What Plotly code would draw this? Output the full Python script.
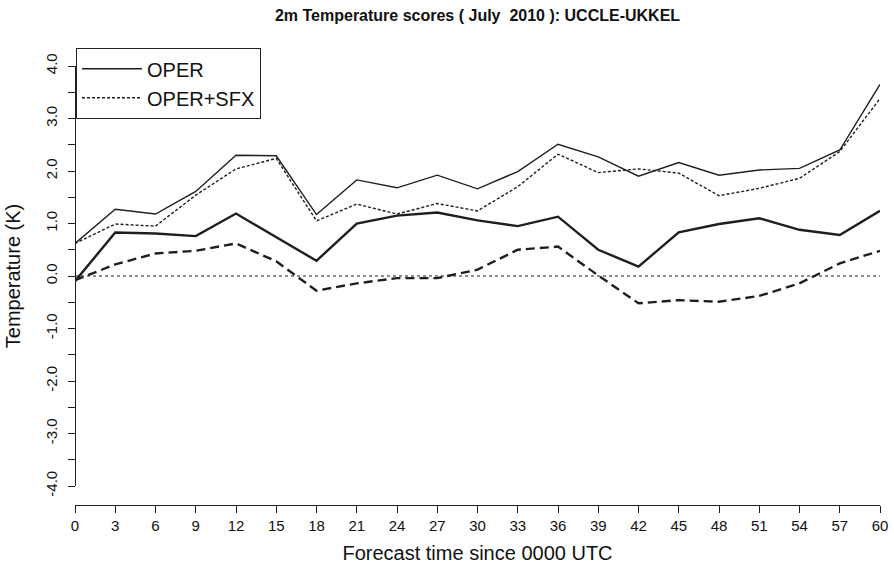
import plotly.graph_objects as go

# Forecast lead times (hours)
lead_hours = [0, 3, 6, 9, 12, 15, 18, 21, 24, 27, 30, 33, 36, 39, 42, 45, 48, 51, 54, 57, 60]

# RMSE-like scores (thin lines)
rmse_oper = [0.62, 1.27, 1.18, 1.61, 2.30, 2.29, 1.17, 1.83, 1.68, 1.92, 1.66,
             1.99, 2.51, 2.27, 1.90, 2.16, 1.92, 2.02, 2.05, 2.40, 3.65]
rmse_sfx = [0.62, 0.99, 0.95, 1.54, 2.04, 2.24, 1.05, 1.37, 1.18, 1.38, 1.24,
            1.70, 2.32, 1.97, 2.04, 1.96, 1.53, 1.67, 1.86, 2.37, 3.38]

# Bias scores (thick lines)
bias_oper = [-0.10, 0.83, 0.81, 0.76, 1.19, 0.74, 0.29, 1.00, 1.15, 1.21, 1.06,
             0.95, 1.13, 0.50, 0.18, 0.83, 0.99, 1.10, 0.88, 0.78, 1.24]
bias_sfx = [-0.08, 0.22, 0.43, 0.48, 0.62, 0.28, -0.28, -0.14, -0.04, -0.04, 0.12,
            0.50, 0.56, 0.01, -0.52, -0.46, -0.49, -0.38, -0.14, 0.24, 0.48]

# Axis ticks
x_tick_vals = lead_hours
y_tick_vals = [-4.0, -3.5, -3.0, -2.5, -2.0, -1.5, -1.0, -0.5, 0.0, 0.5, 1.0, 1.5, 2.0, 2.5, 3.0, 3.5, 4.0]
y_tick_text = ["-4.0", "", "-3.0", "", "-2.0", "", "-1.0", "", "0.0", "", "1.0", "", "2.0", "", "3.0", "", "4.0"]

INK = "#1e1e1e"
NARROW = "Liberation Sans Narrow, Liberation Sans, Arial, sans-serif"
SANS = "Liberation Sans, Arial, sans-serif"

fig = go.Figure()
fig.add_trace(go.Scatter(x=lead_hours, y=rmse_oper, mode="lines", name="OPER",
                         line=dict(color=INK, width=1.4, dash="solid")))
fig.add_trace(go.Scatter(x=lead_hours, y=rmse_sfx, mode="lines", name="OPER+SFX",
                         line=dict(color=INK, width=1.4, dash="3px,2px")))
fig.add_trace(go.Scatter(x=lead_hours, y=bias_oper, mode="lines", showlegend=False,
                         line=dict(color=INK, width=2.4, dash="solid")))
fig.add_trace(go.Scatter(x=lead_hours, y=bias_sfx, mode="lines", showlegend=False,
                         line=dict(color=INK, width=2.4, dash="9px,5px")))

fig.add_hline(y=0, line=dict(color=INK, width=1.2, dash="3px,3px"))

fig.update_layout(
    width=894, height=567,
    margin=dict(l=75, r=14, t=66, b=62, autoexpand=False),
    paper_bgcolor="white", plot_bgcolor="white",
    title=dict(text="<b>2m Temperature scores ( July  2010 ): UCCLE-UKKEL</b>",
               x=0.5, xref="paper", y=1 - 15 / 567, yanchor="middle", yref="container",
               font=dict(family=NARROW, size=16, color="#111")),
    showlegend=True,
    legend=dict(x=0.001, y=1 + 18 / 439, xanchor="left", yanchor="top",
                bordercolor="#222", borderwidth=1.2, bgcolor="white",
                font=dict(family=SANS, size=20, color="#111"),
                itemwidth=60, tracegroupgap=0),
    xaxis=dict(range=[0, 60], anchor="free", position=0, automargin=False,
               tickvals=x_tick_vals, ticks="outside", ticklen=7, tickwidth=1.2,
               tickcolor=INK, showline=True, linecolor=INK, linewidth=1.2,
               showgrid=False, zeroline=False,
               tickfont=dict(family=NARROW, size=15, color="#111"),
               title=dict(text="Forecast time since 0000 UTC", standoff=12,
                          font=dict(family=SANS, size=20, color="#111"))),
    yaxis=dict(range=[-4, 4], domain=[19 / 439, 1], anchor="free", position=0,
               automargin=False,
               tickvals=y_tick_vals, ticktext=y_tick_text, tickangle=-90,
               ticks="outside", ticklen=7, tickwidth=1.2, tickcolor=INK,
               ticklabelstandoff=5,
               showline=True, linecolor=INK, linewidth=1.2,
               showgrid=False, zeroline=False,
               tickfont=dict(family=NARROW, size=15, color="#111"),
               title=dict(text="Temperature (K)", standoff=15,
                          font=dict(family=SANS, size=20, color="#111"))),
)

fig.write_html("out.html",
               config={"displayModeBar": False},
               post_script="document.body.style.margin='0';document.body.style.overflow='hidden';")
